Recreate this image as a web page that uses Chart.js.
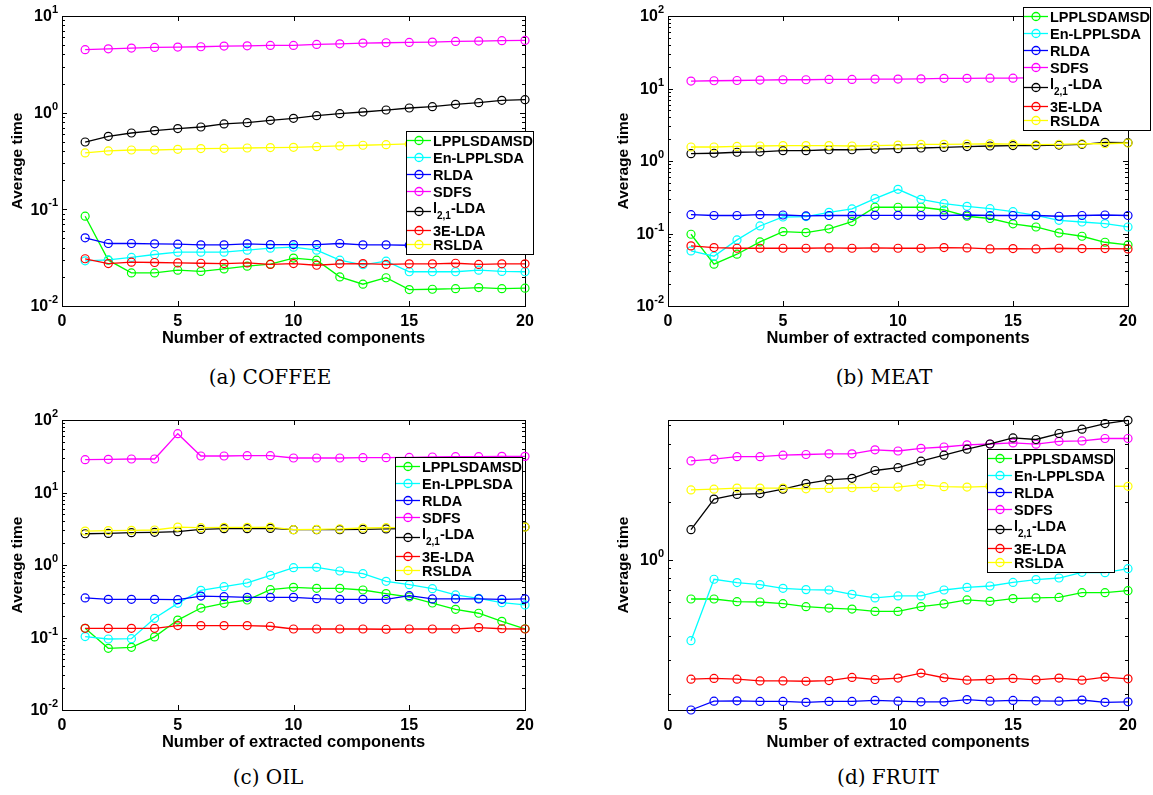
<!DOCTYPE html>
<html>
<head>
<meta charset="utf-8">
<script src="https://cdn.jsdelivr.net/npm/chart.js@4.4.0/dist/chart.umd.min.js"></script>
<style>
  body { margin: 0; background: #fff; width: 1153px; height: 795px; position: relative; overflow: hidden; }
  .panel { position: absolute; width: 575px; height: 355px; }
  .cap { position: absolute; font-family: "DejaVu Serif", serif; font-size: 20px; color: #000;
         transform: translate(-50%, -50%); white-space: nowrap; }
</style>
</head>
<body>
<div class="panel" style="left:0;top:0"><canvas id="coffee" width="575" height="355"></canvas></div>
<div class="panel" style="left:578px;top:0"><canvas id="meat" width="575" height="355"></canvas></div>
<div class="panel" style="left:0;top:404px"><canvas id="oil" width="575" height="355"></canvas></div>
<div class="panel" style="left:578px;top:404px"><canvas id="fruit" width="575" height="355"></canvas></div>
<div class="cap" style="left:270px;top:377px">(a) COFFEE</div>
<div class="cap" style="left:884px;top:377px">(b) MEAT</div>
<div class="cap" style="left:268px;top:777px">(c) OIL</div>
<div class="cap" style="left:888px;top:777px">(d) FRUIT</div>
<script>
const components = [1, 2, 3, 4, 5, 6, 7, 8, 9, 10, 11, 12, 13, 14, 15, 16, 17, 18, 19, 20];
const xTickValues = [0, 5, 10, 15, 20];
const seriesNames = ['LPPLSDAMSD', 'En-LPPLSDA', 'RLDA', 'SDFS', 'l_{2,1}-LDA', '3E-LDA', 'RSLDA'];
const seriesColors = ['#00ff00', '#00ffff', '#0000ff', '#ff00ff', '#000000', '#ff0000', '#ffff00'];

// (a) COFFEE
const coffeeLpplsdamsd = [0.0849, 0.0298, 0.0220, 0.0220, 0.0235, 0.0228, 0.0242, 0.0258, 0.0271, 0.0313, 0.0298, 0.0200, 0.0168, 0.0196, 0.0148, 0.0149, 0.0151, 0.0155, 0.0151, 0.0153];
const coffeeEnLpplsda = [0.0293, 0.0300, 0.0318, 0.0341, 0.0360, 0.0360, 0.0360, 0.0378, 0.0396, 0.0406, 0.0378, 0.0298, 0.0267, 0.0291, 0.0226, 0.0226, 0.0226, 0.0235, 0.0228, 0.0226];
const coffeeRlda = [0.0507, 0.0443, 0.0443, 0.0440, 0.0436, 0.0429, 0.0429, 0.0440, 0.0432, 0.0432, 0.0432, 0.0443, 0.0429, 0.0429, 0.0425, 0.0430, 0.0430, 0.0432, 0.0432, 0.0430];
const coffeeSdfs = [4.48, 4.58, 4.66, 4.73, 4.77, 4.81, 4.89, 4.92, 4.96, 4.96, 5.08, 5.16, 5.25, 5.29, 5.33, 5.37, 5.46, 5.50, 5.55, 5.59];
const coffeeL21 = [0.497, 0.569, 0.616, 0.652, 0.684, 0.711, 0.764, 0.788, 0.834, 0.874, 0.931, 0.977, 1.016, 1.065, 1.117, 1.153, 1.219, 1.268, 1.341, 1.363];
const coffee3e = [0.0308, 0.0275, 0.0284, 0.0282, 0.0279, 0.0277, 0.0275, 0.0279, 0.0269, 0.0275, 0.0264, 0.0273, 0.0275, 0.0269, 0.0273, 0.0273, 0.0277, 0.0269, 0.0273, 0.0273];
const coffeeRslda = [0.383, 0.402, 0.411, 0.411, 0.418, 0.425, 0.428, 0.431, 0.435, 0.438, 0.445, 0.453, 0.460, 0.467, 0.475, 0.480, 0.485, 0.490, 0.495, 0.500];

// (b) MEAT
const meatLpplsdamsd = [0.0977, 0.0377, 0.0518, 0.0766, 0.106, 0.103, 0.116, 0.146, 0.230, 0.230, 0.230, 0.211, 0.173, 0.161, 0.136, 0.123, 0.102, 0.0916, 0.0757, 0.0696];
const meatEnLpplsda = [0.0575, 0.0486, 0.0816, 0.127, 0.169, 0.171, 0.196, 0.218, 0.303, 0.407, 0.296, 0.258, 0.237, 0.220, 0.200, 0.178, 0.152, 0.144, 0.137, 0.123];
const meatRlda = [0.182, 0.177, 0.177, 0.182, 0.180, 0.175, 0.177, 0.177, 0.178, 0.178, 0.177, 0.177, 0.180, 0.177, 0.177, 0.177, 0.173, 0.177, 0.180, 0.177];
const meatSdfs = [12.65, 12.8, 12.9, 13.05, 13.2, 13.2, 13.35, 13.35, 13.5, 13.5, 13.6, 13.8, 13.8, 13.9, 13.9, 14.1, 14.1, 14.2, 14.2, 14.4];
const meatL21 = [1.26, 1.28, 1.32, 1.34, 1.39, 1.39, 1.43, 1.43, 1.46, 1.48, 1.51, 1.54, 1.58, 1.61, 1.63, 1.63, 1.66, 1.70, 1.81, 1.79];
const meat3e = [0.0675, 0.0640, 0.0626, 0.0626, 0.0626, 0.0626, 0.0633, 0.0626, 0.0633, 0.0626, 0.0626, 0.0640, 0.0633, 0.0613, 0.0620, 0.0613, 0.0626, 0.0620, 0.0620, 0.0613];
const meatRslda = [1.56, 1.56, 1.59, 1.61, 1.63, 1.63, 1.63, 1.61, 1.63, 1.66, 1.70, 1.70, 1.71, 1.73, 1.71, 1.68, 1.70, 1.73, 1.73, 1.77];

// (c) OIL
const oilLpplsdamsd = [0.134, 0.0709, 0.0732, 0.102, 0.174, 0.255, 0.296, 0.329, 0.457, 0.492, 0.477, 0.477, 0.452, 0.403, 0.362, 0.299, 0.245, 0.216, 0.167, 0.132];
const oilEnLpplsda = [0.103, 0.0954, 0.0964, 0.184, 0.296, 0.447, 0.502, 0.565, 0.720, 0.919, 0.929, 0.826, 0.759, 0.595, 0.535, 0.472, 0.386, 0.347, 0.302, 0.281];
const oilRlda = [0.351, 0.336, 0.336, 0.336, 0.332, 0.373, 0.366, 0.358, 0.358, 0.358, 0.343, 0.336, 0.336, 0.336, 0.378, 0.340, 0.340, 0.340, 0.336, 0.340];
const oilSdfs = [28.4, 28.7, 29.0, 29.0, 64.8, 31.9, 31.9, 32.2, 32.2, 29.9, 29.9, 29.9, 30.2, 30.2, 30.5, 30.9, 31.2, 31.2, 31.5, 31.5];
const oilL21 = [2.70, 2.73, 2.79, 2.82, 2.88, 3.10, 3.17, 3.17, 3.20, 3.07, 3.07, 3.07, 3.10, 3.14, 3.17, 3.20, 3.22, 3.25, 3.28, 3.35];
const oil3e = [0.134, 0.134, 0.134, 0.134, 0.146, 0.146, 0.146, 0.146, 0.143, 0.131, 0.131, 0.131, 0.131, 0.130, 0.131, 0.131, 0.131, 0.137, 0.132, 0.131];
const oilRslda = [2.94, 2.98, 3.01, 3.04, 3.34, 3.27, 3.31, 3.31, 3.34, 3.07, 3.10, 3.14, 3.24, 3.27, 3.31, 3.31, 3.31, 3.31, 3.31, 3.34];

// (d) FRUIT
const fruitLpplsdamsd = [0.625, 0.625, 0.605, 0.603, 0.591, 0.570, 0.561, 0.554, 0.539, 0.539, 0.570, 0.589, 0.618, 0.608, 0.628, 0.633, 0.637, 0.674, 0.674, 0.690];
const fruitEnLpplsda = [0.380, 0.791, 0.760, 0.742, 0.710, 0.699, 0.696, 0.661, 0.633, 0.648, 0.648, 0.696, 0.718, 0.730, 0.762, 0.788, 0.803, 0.859, 0.856, 0.898];
const fruitRlda = [0.166, 0.1845, 0.1853, 0.184, 0.184, 0.182, 0.184, 0.184, 0.186, 0.1845, 0.183, 0.183, 0.188, 0.1845, 0.186, 0.1853, 0.1845, 0.187, 0.182, 0.183];
const fruitSdfs = [3.25, 3.32, 3.42, 3.42, 3.48, 3.51, 3.54, 3.54, 3.71, 3.66, 3.78, 3.84, 3.94, 3.98, 4.03, 3.97, 4.11, 4.13, 4.25, 4.25];
const fruitL21 = [1.43, 2.06, 2.18, 2.20, 2.32, 2.48, 2.59, 2.64, 2.90, 3.00, 3.24, 3.48, 3.74, 3.98, 4.28, 4.20, 4.51, 4.75, 5.08, 5.28];
const fruit3e = [0.240, 0.242, 0.240, 0.235, 0.235, 0.234, 0.236, 0.245, 0.239, 0.243, 0.258, 0.244, 0.237, 0.239, 0.242, 0.238, 0.243, 0.237, 0.246, 0.241];
const fruitRslda = [2.30, 2.32, 2.35, 2.35, 2.35, 2.33, 2.34, 2.36, 2.37, 2.38, 2.45, 2.39, 2.38, 2.40, 2.39, 2.40, 2.41, 2.40, 2.41, 2.40];

const isPow10 = v => Math.abs(Math.log10(v) - Math.round(Math.log10(v))) < 1e-6;
const FONT = '"Liberation Sans", Arial, sans-serif';

// MATLAB-like box, inward ticks, 10^n labels and boxed legend
const matlabAxes = {
    id: 'matlabAxes',
    beforeDatasetsDraw(chart) {
        const { ctx, chartArea: a } = chart;
        const xs = chart.scales.x, ys = chart.scales.y;
        ctx.save();
        ctx.strokeStyle = '#000';
        ctx.lineWidth = 1;
        ctx.strokeRect(a.left + 0.5, a.top + 0.5, a.right - a.left, a.bottom - a.top);
        ctx.beginPath();
        xs.ticks.forEach(t => {
            const px = Math.round(xs.getPixelForValue(t.value)) + 0.5;
            ctx.moveTo(px, a.bottom); ctx.lineTo(px, a.bottom - 5);
            ctx.moveTo(px, a.top); ctx.lineTo(px, a.top + 5);
        });
        ys.ticks.forEach(t => {
            const py = Math.round(ys.getPixelForValue(t.value)) + 0.5;
            const len = isPow10(t.value) ? 5 : 3;
            ctx.moveTo(a.left, py); ctx.lineTo(a.left + len, py);
            ctx.moveTo(a.right, py); ctx.lineTo(a.right - len, py);
        });
        ctx.stroke();

        // y tick labels as 10 with a raised exponent
        ctx.fillStyle = '#000';
        ctx.textBaseline = 'middle';
        ctx.textAlign = 'left';
        ys.ticks.forEach(t => {
            if (!isPow10(t.value)) return;
            const py = ys.getPixelForValue(t.value);
            const exp = String(Math.round(Math.log10(t.value)));
            ctx.font = 'bold 11px ' + FONT;
            const we = ctx.measureText(exp).width;
            ctx.font = 'bold 16px ' + FONT;
            const wb = ctx.measureText('10').width;
            const xr = a.left - 4;
            ctx.fillText('10', xr - we - wb, py + 1);
            ctx.font = 'bold 11px ' + FONT;
            ctx.fillText(exp, xr - we, py - 6);
        });
        ctx.restore();
    },
    afterDraw(chart, args, opts) {
        const { ctx } = chart;
        const bx = opts.x, by = opts.y, bw = 127, bh = 123;
        const rows = [9, 26, 43, 60, 80, 99, 113];
        ctx.save();
        ctx.fillStyle = '#fff';
        ctx.fillRect(bx, by, bw, bh);
        ctx.strokeStyle = '#000';
        ctx.lineWidth = 1;
        ctx.strokeRect(bx + 0.5, by + 0.5, bw, bh);
        chart.data.datasets.forEach((ds, i) => {
            const yy = by + rows[i] + 0.5;
            ctx.strokeStyle = ds.borderColor;
            ctx.lineWidth = 1.3;
            ctx.beginPath();
            ctx.moveTo(bx + 1, yy); ctx.lineTo(bx + 25, yy);
            ctx.stroke();
            ctx.beginPath();
            ctx.arc(bx + 13, yy, 4, 0, Math.PI * 2);
            ctx.stroke();
            ctx.fillStyle = '#000';
            ctx.textBaseline = 'middle';
            ctx.textAlign = 'left';
            ctx.font = 'bold 14.5px ' + FONT;
            const m = ds.label.match(/^(.*)_\{(.*)\}(.*)$/);
            if (!m) {
                ctx.fillText(ds.label, bx + 27, yy + 1);
            } else {
                let tx = bx + 27;
                ctx.fillText(m[1], tx, yy - 3);
                tx += ctx.measureText(m[1]).width;
                ctx.font = 'bold 10px ' + FONT;
                ctx.fillText(m[2], tx, yy + 5);
                tx += ctx.measureText(m[2]).width;
                ctx.font = 'bold 14.5px ' + FONT;
                ctx.fillText(m[3], tx, yy - 3);
            }
        });
        ctx.restore();
    }
};

function makePanel(id, series, yMin, yMax, padLeft, padRight, legendPos) {
    const datasets = series.map((data, i) => ({
        label: seriesNames[i],
        data,
        borderColor: seriesColors[i],
        backgroundColor: 'rgba(0,0,0,0)',
        pointBackgroundColor: 'rgba(0,0,0,0)',
        pointBorderColor: seriesColors[i],
        borderWidth: 1.3,
        pointBorderWidth: 1.2,
        pointRadius: 4,
        tension: 0,
        clip: false,
        order: series.length - 1 - i
    }));

    new Chart(document.getElementById(id), {
        type: 'line',
        data: { labels: components, datasets },
        plugins: [matlabAxes],
        options: {
            responsive: false,
            animation: false,
            layout: { padding: { left: padLeft, right: padRight, top: 16, bottom: 0 } },
            plugins: {
                legend: { display: false },
                tooltip: { enabled: false },
                matlabAxes: legendPos
            },
            scales: {
                x: {
                    type: 'linear',
                    min: 0,
                    max: 20,
                    grid: { display: false, drawTicks: false },
                    border: { display: false },
                    afterBuildTicks: s => { s.ticks = xTickValues.map(v => ({ value: v })); },
                    afterFit: s => { s.height = 49; s.paddingLeft = 0; s.paddingRight = 0; },
                    ticks: {
                        color: '#000',
                        font: { family: FONT, size: 16, weight: 'bold' },
                        padding: 6,
                        maxRotation: 0,
                        autoSkip: false
                    },
                    title: {
                        display: true,
                        text: 'Number of extracted components',
                        color: '#000',
                        font: { family: FONT, size: 16.5, weight: 'bold' },
                        padding: { top: 0, bottom: 7 }
                    }
                },
                y: {
                    type: 'logarithmic',
                    min: yMin,
                    max: yMax,
                    bounds: 'data',
                    grid: { display: false, drawTicks: false },
                    border: { display: false },
                    afterBuildTicks: s => {
                        const ticks = [];
                        const lo = Math.floor(Math.log10(s.min) + 1e-9);
                        const hi = Math.ceil(Math.log10(s.max) - 1e-9);
                        for (let e = lo; e <= hi; e++) {
                            for (let m = 1; m < 10; m++) {
                                const v = m * Math.pow(10, e);
                                if (v >= s.min * 0.999 && v <= s.max * 1.001) ticks.push({ value: v });
                            }
                        }
                        s.ticks = ticks;
                    },
                    afterFit: s => { s.width = 62; s.paddingTop = 0; s.paddingBottom = 0; },
                    ticks: {
                        display: false,
                        autoSkip: false
                    },
                    title: {
                        display: true,
                        text: 'Average time',
                        color: '#000',
                        font: { family: FONT, size: 15.5, weight: 'bold' },
                        padding: { top: 8, bottom: 0 }
                    }
                }
            }
        }
    });
}

makePanel('coffee',
    [coffeeLpplsdamsd, coffeeEnLpplsda, coffeeRlda, coffeeSdfs, coffeeL21, coffee3e, coffeeRslda],
    0.01, 10, 0, 50, { x: 406, y: 131 });
makePanel('meat',
    [meatLpplsdamsd, meatEnLpplsda, meatRlda, meatSdfs, meatL21, meat3e, meatRslda],
    0.01, 100, 28, 25, { x: 445, y: 7 });
makePanel('oil',
    [oilLpplsdamsd, oilEnLpplsda, oilRlda, oilSdfs, oilL21, oil3e, oilRslda],
    0.01, 100, 0, 50, { x: 395, y: 53 });
makePanel('fruit',
    [fruitLpplsdamsd, fruitEnLpplsda, fruitRlda, fruitSdfs, fruitL21, fruit3e, fruitRslda],
    0.166, 5.3, 28, 25, { x: 409, y: 45 });
</script>
</body>
</html>
